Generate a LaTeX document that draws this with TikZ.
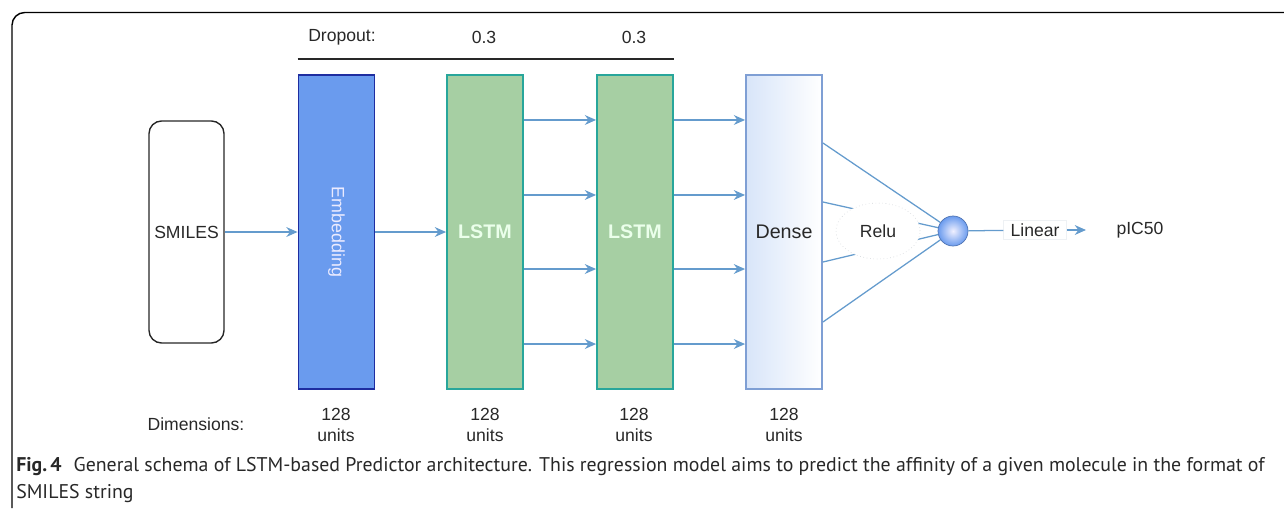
\documentclass[tikz,border=0pt]{standalone}
\usepackage{fontspec}
\setmainfont{Liberation Sans}
\newfontfamily\capfont{PT Sans}
\usetikzlibrary{arrows.meta,positioning,shapes.geometric}
\definecolor{embfill}{RGB}{106,155,238}
\definecolor{embline}{RGB}{30,45,160}
\definecolor{lstmfill}{RGB}{166,207,163}
\definecolor{lstmline}{RGB}{40,166,155}
\definecolor{denseline}{RGB}{127,159,212}
\definecolor{densefill}{RGB}{216,229,249}
\definecolor{arrowblue}{RGB}{100,155,205}
\definecolor{textgray}{RGB}{40,40,40}
\definecolor{faint}{RGB}{200,205,210}
\definecolor{fainter}{RGB}{238,241,244}
\begin{document}
\begin{tikzpicture}[x=0.025cm,y=-0.025cm,
	layer/.style={draw,line width=1.3pt,minimum width=1.9cm,minimum height=7.85cm,inner sep=0pt},
	conn/.style={draw=arrowblue,line width=0.9pt},
	arr/.style={conn,-{Stealth[length=8pt,width=7pt]}},
	lbl/.style={font=\fontsize{12.5}{15}\selectfont,text=textgray},
	units/.style={lbl,align=center},
	captext/.style={anchor=base west,inner sep=0pt,font=\capfont\fontsize{14.1}{17}\selectfont,text=textgray}]
	\useasboundingbox (0,0) rectangle (1284,508);
	%\draw [help lines] (0,0) grid (1284,508);
	\draw[line width=1pt,rounded corners=9pt] (12,508) -- (12,12.5) -- (1284,12.5);

	% blocks
	\node[layer,rounded corners=9pt,draw=black!85,line width=1pt,minimum width=1.875cm,minimum height=5.55cm,lbl] (smiles) at (186.5,232) {SMILES};
	\node[layer,fill=embfill,draw=embline] (emb) at (336.5,232) {\rotatebox{-90}{\fontsize{12.7}{15}\selectfont\color{blue!8}Embedding}};
	\node[layer,fill=lstmfill,draw=lstmline,font=\fontsize{14}{16}\selectfont\bfseries,text=white!92!green] (lstma) at (485,232) {LSTM};
	\node[layer,fill=lstmfill,draw=lstmline,font=\fontsize{14}{16}\selectfont\bfseries,text=white!92!green] (lstmb) at (635,232) {LSTM};
	\node[layer,left color=densefill,right color=white,draw=denseline,font=\fontsize{14}{16}\selectfont,text=textgray] (dense) at (784,232) {Dense};

	% connectors
	\draw[arr] (smiles) -- (emb);
	\draw[arr] (emb) -- (lstma);
	\foreach \dy in {2.8,0.925,-0.925,-2.8}{
		\draw[arr] ([yshift=\dy cm]lstma.east) -- ([yshift=\dy cm]lstmb.west);
		\draw[arr] ([yshift=\dy cm]lstmb.east) -- ([yshift=\dy cm]dense.west);
	}

	% output neuron
	\node[circle,inner color=blue!6,outer color=embfill,minimum size=0.75cm,inner sep=0pt,draw=embfill!75!black,line width=0.5pt] (out) at (953,231) {};
	\foreach \dy in {2.225,0.75,-0.75,-2.25}{
		\draw[conn] ([yshift=\dy cm]dense.east) -- (out);
	}
	\node[ellipse,fill=white,draw=faint,dotted,minimum width=2.1cm,minimum height=1.4cm,lbl] (relu) at (878,231) {Relu};
	\node[draw=fainter,line width=0.4pt,inner xsep=5pt,inner ysep=2pt,lbl] (linear) at (1035,230) {Linear};
	\coordinate (tip) at (1086,230);
	\node[lbl] (pic) at (1140,230) {pIC50};
	\draw[conn] (out) -- (linear);
	\draw[arr] (linear) -- (tip);

	% dropout
	\draw[line width=1pt,textgray] ([yshift=0.375cm]emb.north west) -- ([yshift=0.375cm]lstmb.north east);
	\node[lbl] (drop) at (342,37) {Dropout:};
	\node[lbl] (dropa) at (484,37) {0.3};
	\node[lbl] (dropb) at (634,37) {0.3};

	% dimensions
	\node[lbl] (dims) at (196,424) {Dimensions:};
	\node[units] (dimemb) at (336,425) {128\\units};
	\node[units] (dima) at (485,425) {128\\units};
	\node[units] (dimb) at (634,425) {128\\units};
	\node[units] (dimd) at (784,425) {128\\units};

	% caption
	\node[captext] (capa) at (16,471) {\textbf{Fig.\,4}\hspace{0.6em}General schema of LSTM-based Predictor architecture. This regression model aims to predict the affinity of a given molecule in the format of};
	\node[captext] (capb) at (16,498) {SMILES string};
\end{tikzpicture}
\end{document}
